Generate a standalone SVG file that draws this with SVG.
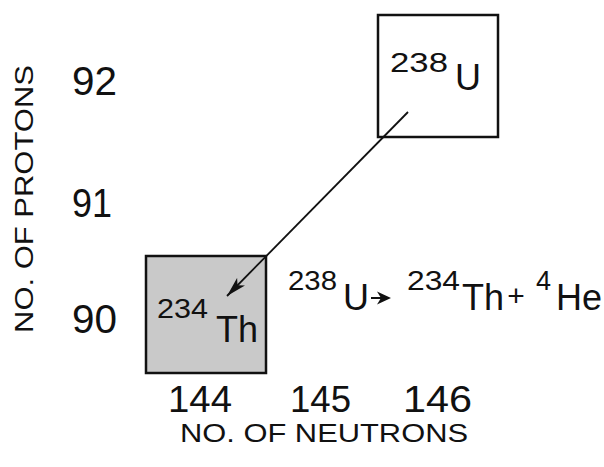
<svg xmlns="http://www.w3.org/2000/svg" width="604" height="467" viewBox="0 0 604 467">
<style>
text{font-family:"Liberation Sans",Arial,sans-serif;fill:#111}
.sup{font-size:27px}
.el{font-size:36px}
.num{font-size:41px}
.bnum{font-size:37px}
.lab{font-size:25px}
.box{stroke:#111;stroke-width:2.5}
</style>
<defs>
<marker id="ah" viewBox="0 0 20 12" refX="20" refY="6" markerWidth="20" markerHeight="12" markerUnits="userSpaceOnUse" orient="auto">
<path d="M0,0.5 L20,6 L0,11.5 L5,6 Z" fill="#111"/>
</marker>
</defs>
<rect width="604" height="467" fill="#fff"/>
<g id="axes">
<text class="lab" transform="translate(33,333) rotate(-90)" textLength="268" lengthAdjust="spacingAndGlyphs">NO. OF PROTONS</text>
<text class="num" x="72" y="95" textLength="45" lengthAdjust="spacingAndGlyphs">92</text>
<text class="num" x="72" y="217" textLength="40" lengthAdjust="spacingAndGlyphs">91</text>
<text class="num" x="72" y="333" textLength="45" lengthAdjust="spacingAndGlyphs">90</text>
<text class="bnum" x="168" y="412" textLength="64" lengthAdjust="spacingAndGlyphs">144</text>
<text class="bnum" x="290" y="412" textLength="61" lengthAdjust="spacingAndGlyphs">145</text>
<text class="bnum" x="403" y="412" textLength="69" lengthAdjust="spacingAndGlyphs">146</text>
<text class="lab" x="180" y="442" textLength="288" lengthAdjust="spacingAndGlyphs">NO. OF NEUTRONS</text>
</g>
<g id="node-u238">
<rect class="box" x="378" y="15" width="120" height="122" fill="#fff"/>
<text class="sup" x="390" y="72" textLength="58" lengthAdjust="spacingAndGlyphs">238</text>
<text class="el" x="455" y="90">U</text>
</g>
<g id="node-th234">
<rect class="box" x="146" y="256" width="120" height="117" fill="#c9c9c9"/>
<text class="sup" x="157" y="318" textLength="51" lengthAdjust="spacingAndGlyphs">234</text>
<text class="el" x="216" y="342">Th</text>
</g>
<g id="connectors">
<line x1="408" y1="112" x2="227" y2="296" stroke="#111" stroke-width="1.8" marker-end="url(#ah)"/>
</g>
<g id="equation">
<text class="sup" x="288" y="290" textLength="49" lengthAdjust="spacingAndGlyphs">238</text>
<text class="el" x="343" y="310">U</text>
<line x1="371" y1="298" x2="384" y2="298" stroke="#111" stroke-width="2"/>
<path d="M391,298 L377,291.5 L381,298 L377,304.5 Z" fill="#111"/>
<text class="sup" x="407" y="290" textLength="53" lengthAdjust="spacingAndGlyphs">234</text>
<text class="el" x="462" y="310">Th</text>
<text x="516" y="306" text-anchor="middle" style="font-size:30px">+</text>
<text class="sup" x="536" y="290">4</text>
<text class="el" x="556" y="310">He</text>
</g>
</svg>
